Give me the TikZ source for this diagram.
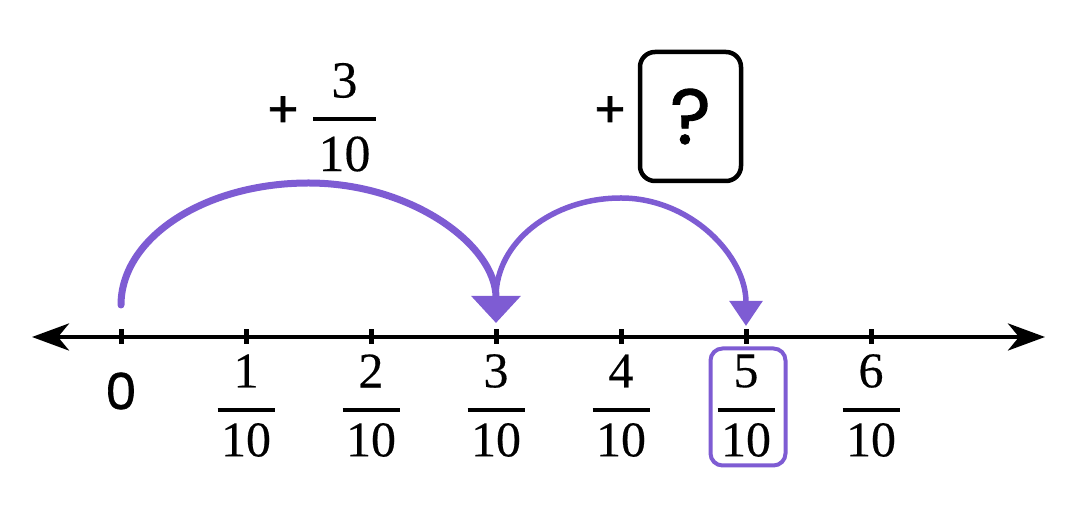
\documentclass[tikz,border=0pt]{standalone}
\usepackage{fontspec}
\setmainfont[FakeBold=0.3]{Liberation Serif}
\newfontfamily\popfont[FakeBold=1.2]{Poppins}
\usetikzlibrary{arrows.meta}
\definecolor{jump}{RGB}{126,92,211}
\begin{document}
\begin{tikzpicture}[x=1pt,y=1pt,
  numtext/.style={inner sep=0pt, font=\fontsize{50}{55}\selectfont},
  topnum/.style={inner sep=0pt, font=\fontsize{52}{58}\selectfont},
  sanstext/.style={inner sep=0pt, font=\popfont\fontsize{50}{56}\selectfont},
  fracbar/.style={line width=3.5pt},
  axisline/.style={line width=4.5pt, {Stealth[length=37pt,width=27pt,inset=11pt]}-{Stealth[length=37pt,width=27pt,inset=11pt]}},
  tickmark/.style={line width=5pt},
  jumpA/.style={draw=jump, line width=7pt, line cap=round, -{Triangle[length=27pt,width=48pt]}},
  jumpB/.style={draw=jump, line width=5.5pt, line cap=round, -{Triangle[length=25pt,width=32pt]}},
  hlbox/.style={draw=jump, line width=4pt, rounded corners=12pt, inner sep=0pt},
  qbox/.style={draw=black, line width=4.5pt, rounded corners=15pt, inner sep=0pt, font=\popfont\fontsize{78}{86}\selectfont},
]
\useasboundingbox (0,0) rectangle (1080,516);
% axis
\coordinate (L) at (32,179);
\coordinate (R) at (1045,179);
\draw[axisline] (L) -- (R);
\foreach \i in {0,...,6} {
  \coordinate (t\i) at (121+125*\i,179);
  \draw[tickmark] ([yshift=7.5pt]t\i) -- ([yshift=-7.5pt]t\i);
}
% labels
\node[sanstext] (z) at (121,125) {0};
\foreach \i in {1,...,6} {
  \node[numtext] (n\i) at (121+125*\i,145) {\i};
  \node[numtext] (d\i) at (121+125*\i,76) {10};
  \draw[fracbar] (121+125*\i-28.5,106) -- (121+125*\i+28.5,106);
}
% highlight box
\node[hlbox, minimum width=75pt, minimum height=117pt] (hl) at (748,109) {};
% top labels
\node[sanstext] (p1) at (283,404) {+};
\node[topnum] (tn) at (344.5,435.5) {3};
\draw[fracbar] (313,397) -- (376,397);
\node[topnum] (td) at (344.5,362) {10};
\node[sanstext] (p2) at (610,404) {+};
\node[qbox, minimum width=101pt, minimum height=129pt] (qb) at (690.5,399.5) {?};
% jumps
\coordinate (a0) at (121,211);
\draw[jumpA] (a0) arc[start angle=180,end angle=90,x radius=187.5,y radius=122]
  arc[start angle=90,end angle=0,x radius=187.5,y radius=140];
\coordinate (b0) at (496,219);
\draw[jumpB] (b0) arc[start angle=180,end angle=90,x radius=125,y radius=99]
  arc[start angle=90,end angle=0,x radius=125,y radius=128];
\end{tikzpicture}
\end{document}
